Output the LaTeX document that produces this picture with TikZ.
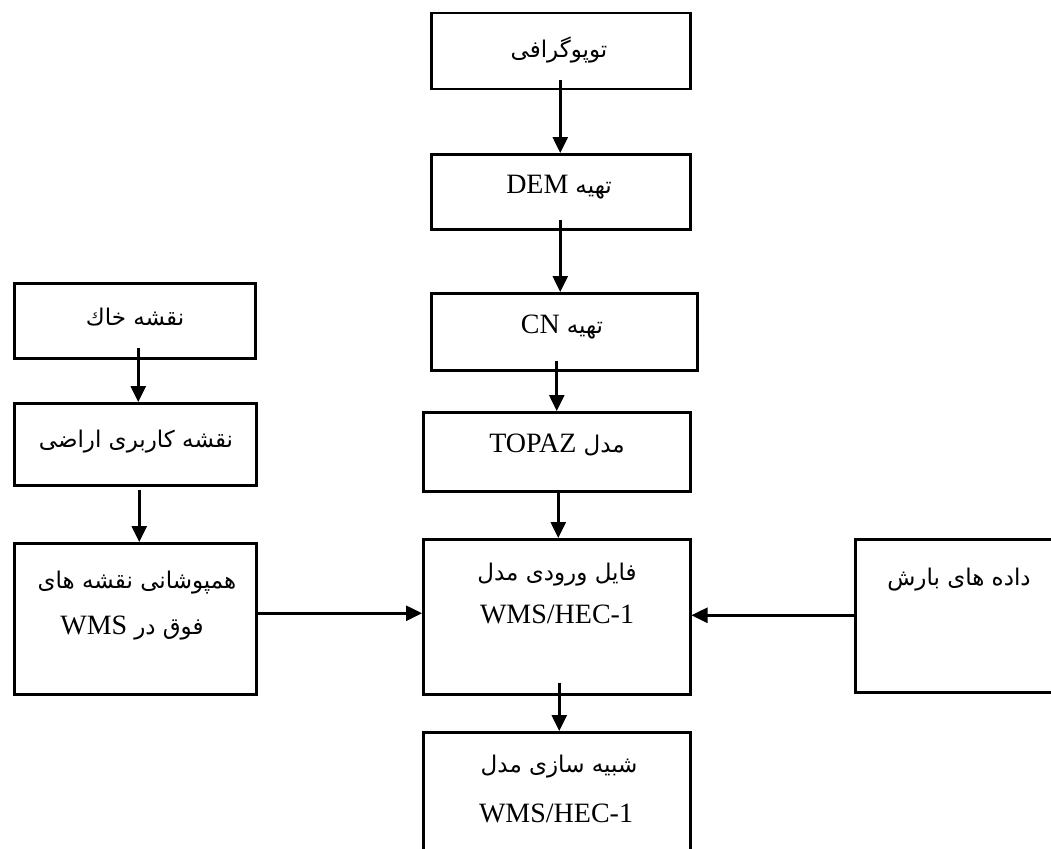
\documentclass[tikz,border=0pt]{standalone}
\usepackage{fontspec}
\setmainfont{Liberation Serif}
\newfontfamily\fa[Script=Arabic]{DejaVu Sans}
\TeXXeTstate=1
\usetikzlibrary{arrows.meta}
\tikzset{
  box/.style={draw, line width=2.5pt, rectangle, inner sep=0pt, anchor=north west},
  lbl/.style={inner sep=0pt, anchor=center, font=\fontsize{28}{30}\selectfont},
  arr/.style={line width=2.6pt, -{Triangle[width=15pt,length=16pt]}}
}
\newcommand{\fatext}[1]{{\fa\fontsize{23}{26}\selectfont\beginR #1\endR}}
\begin{document}
\begin{tikzpicture}[x=1pt,y=-1pt]
\clip (0,0) rectangle (1051,848);
\fill[white] (0,0) rectangle (1051,848);
% boxes
\node[box, minimum width=259pt, minimum height=76pt] (t1) at (430,12) {};
\node[box, minimum width=259pt, minimum height=75pt] (t2) at (430,153) {};
\node[box, minimum width=266pt, minimum height=77pt] (t3) at (430,292) {};
\node[box, minimum width=267pt, minimum height=79pt] (t4) at (422,411) {};
\node[box, minimum width=267pt, minimum height=155pt] (t5) at (422,538) {};
\node[box, minimum width=267pt, minimum height=140pt] (t6) at (422,731) {};
\node[box, minimum width=241pt, minimum height=75pt] (l1) at (13,282) {};
\node[box, minimum width=242pt, minimum height=82pt] (l2) at (13,402) {};
\node[box, minimum width=242pt, minimum height=151pt] (l3) at (13,542) {};
\node[box, minimum width=215pt, minimum height=153pt] (r1) at (854,538) {};
% labels
\node[lbl] (t1a) at (559,50) {\fatext{توپوگرافی}};
\node[lbl] (t2a) at (559,187) {DEM \fatext{تهیه}};
\node[lbl] (t3a) at (562,327) {CN \fatext{تهیه}};
\node[lbl] (t4a) at (557,445) {TOPAZ \fatext{مدل}};
\node[lbl] (t5a) at (557,575) {\fatext{فایل ورودی مدل}};
\node[lbl] (t5b) at (557,614) {WMS/HEC-1};
\node[lbl] (t6a) at (559,767) {\fatext{شبیه سازی مدل}};
\node[lbl] (t6b) at (556,813) {WMS/HEC-1};
\node[lbl] (l1a) at (135,317) {\fatext{نقشه خاك}};
\node[lbl] (l2a) at (136,442) {\fatext{نقشه کاربری اراضی}};
\node[lbl] (l3a) at (137,583) {\fatext{همپوشانی نقشه های}};
\node[lbl] (l3b) at (132,628) {WMS \fatext{فوق در}};
\node[lbl] (r1a) at (959,580) {\fatext{داده های بارش}};
% connectors
\draw[arr] ([xshift=-0.5pt,yshift=10pt]t1.south) -- ([xshift=-0.5pt]t1.south |- t2.north);
\draw[arr] ([xshift=-4pt,yshift=11pt]t3.north |- t2.south) -- ([xshift=-4pt]t3.north);
\draw[arr] ([yshift=11pt]t4.north |- t3.south) -- (t4.north);
\draw[arr] ([xshift=1.5pt,yshift=3pt]t4.south) -- ([xshift=1.5pt]t4.south |- t5.north);
\draw[arr] ([xshift=2.5pt,yshift=13pt]t5.south) -- ([xshift=2.5pt]t5.south |- t6.north);
\draw[arr] ([xshift=3pt,yshift=12pt]l2.north |- l1.south) -- ([xshift=3pt]l2.north);
\draw[arr] ([xshift=4pt,yshift=-3pt]l2.south) -- ([xshift=4pt]l2.south |- l3.north);
\draw[arr] ([yshift=5.5pt]l3.east) -- ([yshift=5.5pt]l3.east -| t5.west);
\draw[arr] ([yshift=0.5pt]r1.west) -- ([yshift=0.5pt]r1.west -| t5.east);
\end{tikzpicture}
\end{document}
